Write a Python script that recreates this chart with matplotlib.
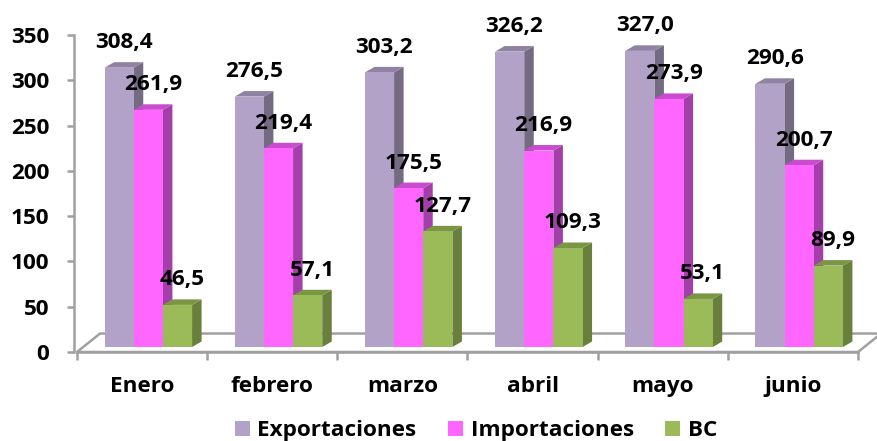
import numpy as np
import matplotlib.pyplot as plt
from matplotlib.patches import Polygon, Patch

# datos
meses = ['Enero', 'febrero', 'marzo', 'abril', 'mayo', 'junio']
exportaciones = [308.4, 276.5, 303.2, 326.2, 327.0, 290.6]
importaciones = [261.9, 219.4, 175.5, 216.9, 273.9, 200.7]
bc = [46.5, 57.1, 127.7, 109.3, 53.1, 89.9]
series = ['Exportaciones', 'Importaciones', 'BC']

# colores (frente, lado, arriba)
colores = {
    'Exportaciones': ('#B3A2C7', '#746A82', '#8F82A2'),
    'Importaciones': ('#FF66FF', '#A23FA8', '#C94CCF'),
    'BC': ('#9BBB59', '#68803B', '#7A9645'),
}

plt.rcParams['font.family'] = ['Open Sans', 'DejaVu Sans']
plt.rcParams['font.weight'] = 'bold'
fs = 16.2

fig = plt.figure(figsize=(8.78, 4.41), dpi=100)
ax = fig.add_axes([77 / 878, 89 / 441, 781 / 878, 317 / 441])
ax.set_xlim(0, 6)
ax.set_ylim(0, 350)

gris = '#A0A0A0'

# piso 3D
fdx, fdy = 0.177, 20.4
piso = Polygon([(0, 0), (6, 0), (6 + fdx, fdy), (fdx, fdy)], closed=True,
               facecolor='white', edgecolor=gris, lw=1.8, zorder=1, clip_on=False)
ax.add_patch(piso)

# barras con efecto 3D
base = 5.5
ancho = 0.224
inicio = 0.212
bdx, bdy = 0.073, 6.1
x = np.arange(len(meses))
datos = [exportaciones, importaciones, bc]

for i in range(len(meses)):
    for j, nombre in enumerate(series):
        v = datos[j][i]
        frente, lado, arriba = colores[nombre]
        x0 = x[i] + inicio + j * ancho
        x1 = x0 + ancho
        y1 = base + v
        z = 2 + i * 10 + j * 3
        ax.add_patch(Polygon([(x1, base), (x1 + bdx, base + bdy), (x1 + bdx, y1 + bdy), (x1, y1)],
                             closed=True, facecolor=lado, edgecolor='none', zorder=z))
        ax.add_patch(Polygon([(x0, y1), (x1, y1), (x1 + bdx, y1 + bdy), (x0 + bdx, y1 + bdy)],
                             closed=True, facecolor=arriba, edgecolor='none', zorder=z))
        ax.bar(x0, v, width=ancho, bottom=base, align='edge', color=frente,
               edgecolor='none', zorder=z + 1)
        ax.text((x0 + x1) / 2 + bdx / 2, y1 + bdy + 15.5, f'{v:.1f}'.replace('.', ','),
                ha='center', va='baseline', fontsize=fs, fontweight='bold', zorder=200)

# ejes
for s in ['top', 'right']:
    ax.spines[s].set_visible(False)
ax.spines['left'].set_color(gris)
ax.spines['left'].set_linewidth(1.8)
ax.spines['left'].set_position(('outward', 2))
ax.spines['bottom'].set_color(gris)
ax.spines['bottom'].set_linewidth(1.8)
ax.spines['bottom'].set_zorder(150)

ax.set_yticks(np.arange(0, 351, 50))
ax.set_yticklabels([str(t) for t in range(0, 351, 50)], fontsize=fs, fontweight='bold')
ax.tick_params(axis='y', length=5, width=1.8, color=gris, pad=13)
ax.set_xticks(np.arange(0, 7))
ax.set_xticklabels([])
ax.tick_params(axis='x', which='major', length=6, width=1.8, color=gris)
ax.set_xticks(x + 0.5, minor=True)
ax.set_xticklabels(meses, minor=True, fontsize=fs, fontweight='bold')
ax.tick_params(axis='x', which='minor', length=0, pad=17)

# leyenda
handles = [Patch(facecolor=colores[n][0], edgecolor='none') for n in series]
fig.legend(handles, series, loc='center', bbox_to_anchor=(0.542, 0.024), ncol=3,
           frameon=False, handlelength=0.65, handleheight=0.65,
           handletextpad=0.35, columnspacing=1.4, prop={'weight': 'bold', 'size': fs})

fig.savefig('out.png', dpi=100)
